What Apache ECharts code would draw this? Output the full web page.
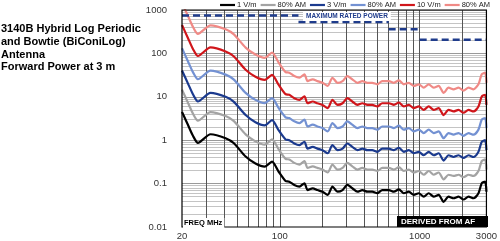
<!DOCTYPE html>
<html>
<head>
<meta charset="utf-8">
<script src="https://cdn.jsdelivr.net/npm/echarts@6/dist/echarts.min.js"></script>
<style>
html,body{margin:0;padding:0;background:#fff;}
#chart{width:500px;height:241px;}
</style>
</head>
<body>
<div id="chart"></div>
<script>
// ---- data ----
const freqMHz = [20,22,24,26,32,41,47,57,67,78,88,98,110,117,127,138,150,158,172,186,202,220,238,259,281,304,330,359,389,423,458,498,540,603,654,710,770,836,908,985,1069,1160,1259,1366,1483,1609,1747,1896,2058,2234,2424,2631,2777,2937,3000];

const cw1V = [4.5,2.3,1.25,0.87,1.37,1.11,0.85,0.42,0.29,0.245,0.32,0.19,0.115,0.111,0.093,0.085,0.102,0.071,0.078,0.071,0.065,0.055,0.085,0.065,0.071,0.093,0.078,0.065,0.071,0.065,0.065,0.060,0.071,0.071,0.065,0.074,0.060,0.065,0.055,0.060,0.050,0.060,0.050,0.055,0.038,0.050,0.046,0.050,0.043,0.050,0.046,0.060,0.102,0.111,0.065];
const am1V = [14.6,7.45,4.05,2.82,4.44,3.6,2.75,1.36,0.94,0.79,1.04,0.62,0.37,0.36,0.30,0.275,0.33,0.23,0.25,0.23,0.21,0.18,0.275,0.21,0.23,0.30,0.25,0.21,0.23,0.21,0.21,0.195,0.23,0.23,0.21,0.24,0.195,0.21,0.18,0.195,0.16,0.195,0.16,0.18,0.125,0.16,0.15,0.16,0.14,0.16,0.15,0.195,0.33,0.36,0.21];
const cw3V = [40.5,20.7,11.3,7.8,12.3,10.0,7.65,3.8,2.6,2.2,2.9,1.7,1.04,1.0,0.84,0.77,0.92,0.64,0.70,0.64,0.59,0.50,0.77,0.59,0.64,0.84,0.70,0.59,0.64,0.59,0.59,0.54,0.64,0.64,0.59,0.67,0.54,0.59,0.50,0.54,0.45,0.54,0.45,0.50,0.34,0.45,0.41,0.45,0.39,0.45,0.41,0.54,0.92,1.0,0.59];
const am3V = [131,67,36.5,25.4,40,32.4,24.8,12.3,8.5,7.15,9.3,5.55,3.36,3.24,2.72,2.48,2.98,2.07,2.28,2.07,1.9,1.6,2.48,1.9,2.07,2.72,2.28,1.9,2.07,1.9,1.9,1.75,2.07,2.07,1.9,2.16,1.75,1.9,1.6,1.75,1.46,1.75,1.46,1.6,1.11,1.46,1.34,1.46,1.26,1.46,1.34,1.75,2.98,3.24,1.9];
const cw10V = [450,230,125,87,137,111,85,42,29,24.5,32,19,11.5,11.1,9.3,8.5,10.2,7.1,7.8,7.1,6.5,5.5,8.5,6.5,7.1,9.3,7.8,6.5,7.1,6.5,6.5,6.0,7.1,7.1,6.5,7.4,6.0,6.5,5.5,6.0,5.0,6.0,5.0,5.5,3.8,5.0,4.6,5.0,4.3,5.0,4.6,6.0,10.2,11.1,6.5];
const am10V = [1458,745,405,282,444,360,275,136,94,79,104,62,37,36,30,27.5,33,23,25.3,23,21,17.8,27.5,21,23,30,25.3,21,23,21,21,19.4,23,23,21,24,19.4,21,17.8,19.4,16.2,19.4,16.2,17.8,12.3,16.2,14.9,16.2,13.9,16.2,14.9,19.4,33,36,21];

const seriesLabels = ['1 V/m','80% AM','3 V/m','80% AM','10 V/m','80% AM'];
const seriesValues = [cw1V, am1V, cw3V, am3V, cw10V, am10V];
const seriesColors = ['#000000','#a3a3a3','#1b3a8e','#7391d2','#d0161b','#f08a86'];

// maximum rated power: [from MHz, to MHz, watts]
const maxPowerSegments = [[20,136,750],[136,600,530],[600,1000,360],[1000,3000,205]];

const xTickLabels = [20,100,1000,3000];
const yTickLabels = [0.01,0.1,1,10,100,1000];
const xGridLines = [30,40,50,60,70,80,90,100,200,300,400,500,600,700,800,900,1000,2000];
const yDecades = [0.01,0.1,1,10,100];

// ---- build ----
const yGridLines = [];
yDecades.forEach(d => { for (let k = 1; k <= 10; k++) { if (!(k === 1 && d === 0.01)) yGridLines.push(+(k * d).toPrecision(3)); } });

const series = [];
// grid lines via markLine on an empty series
series.push({
  type: 'line', name: '_grid', data: [], silent: true, z: 1,
  markLine: {
    silent: true, symbol: 'none', animation: false, z: 1,
    label: { show: false },
    data: [
      ...yGridLines.map(v => ({ yAxis: v, lineStyle: { color: yTickLabels.indexOf(v) >= 0 ? '#9a9a9a' : '#c4c4c4', width: 1, type: 'solid' } })),
      ...xGridLines.map(v => ({ xAxis: v, lineStyle: { color: '#555', width: 1, type: 'solid' } }))
    ]
  }
});

const uniqNames = seriesLabels.map((n, i) => n + ' '.repeat(i));
seriesValues.forEach((vals, i) => {
  series.push({
    type: 'line', name: uniqNames[i], z: 3 + i,
    data: freqMHz.map((f, j) => [f, vals[j]]),
    showSymbol: false, smooth: 0.25, clip: true,
    lineStyle: { color: seriesColors[i], width: 2.2 },
    itemStyle: { color: seriesColors[i] }
  });
});

maxPowerSegments.forEach(seg => {
  series.push({
    type: 'line', name: '_max', z: 10, showSymbol: false, silent: true,
    data: [[seg[0], seg[2]], [seg[1], seg[2]]],
    lineStyle: { color: '#1f3c8c', width: 2.5, type: [7, 4] }
  });
});

const chart = echarts.init(document.getElementById('chart'), null, { renderer: 'canvas' });
chart.setOption({
  animation: false,
  backgroundColor: '#fff',
  textStyle: { fontFamily: 'Liberation Sans, Arial, sans-serif' },
  grid: { left: 182, right: 12, top: 10, bottom: 14, show: true, borderColor: '#000', borderWidth: 1.2, backgroundColor: 'transparent', z: 20 },
  legend: {
    data: uniqNames,
    right: 10, top: 0,
    icon: 'rect', itemWidth: 15, itemHeight: 2.2, itemGap: 4,
    formatter: n => n.trim(),
    textStyle: { fontSize: 7.5, color: '#222', padding: [0, 0, 0, -3] },
    padding: [1, 0, 0, 0]
  },
  xAxis: {
    type: 'log', min: 20, max: 3000, logBase: 10,
    axisLine: { show: false }, axisTick: { show: false },
    splitLine: { show: false },
    axisLabel: { customValues: xTickLabels, formatter: v => String(Math.round(v)), fontSize: 9.5, color: '#333', margin: 4, showMinLabel: true, showMaxLabel: true }
  },
  yAxis: {
    type: 'log', min: 0.01, max: 1000, logBase: 10,
    axisLine: { show: false }, axisTick: { show: false },
    splitLine: { show: false },
    axisLabel: { customValues: yTickLabels, formatter: v => String(+v.toPrecision(2)), fontSize: 9.5, color: '#333', margin: 15, verticalAlign: 'middle', padding: [0, 0, 4, 0] }
  },
  graphic: [
    { type: 'text', left: 1, top: 23, z: 100,
      style: { text: '3140B Hybrid Log Periodic\nand Bowtie (BiConiLog)\nAntenna\nForward Power at 3 m', font: 'bold 11px "Liberation Sans", Arial, sans-serif', fill: '#000', lineHeight: 12.7 } },
    { type: 'text', left: 303, top: 12, z: 100,
      style: { text: 'MAXIMUM RATED POWER', font: 'bold 6.5px "Liberation Sans", Arial, sans-serif', fill: '#1f3c8c', backgroundColor: '#fff', padding: [1, 3, 1, 3] } },
    { type: 'text', left: 183, top: 218, z: 100,
      style: { text: 'FREQ MHz', font: 'bold 7.5px "Liberation Sans", Arial, sans-serif', fill: '#000', backgroundColor: '#fff', padding: [1, 2, 1, 1] } },
    { type: 'rect', shape: { x: 397, y: 216, width: 91, height: 11 }, style: { fill: '#000' }, z: 100 },
    { type: 'text', left: 401, top: 218, z: 101,
      style: { text: 'DERIVED FROM AF', font: 'bold 8px "Liberation Sans", Arial, sans-serif', fill: '#fff' } }
  ],
  series: series
});
</script>
</body>
</html>
